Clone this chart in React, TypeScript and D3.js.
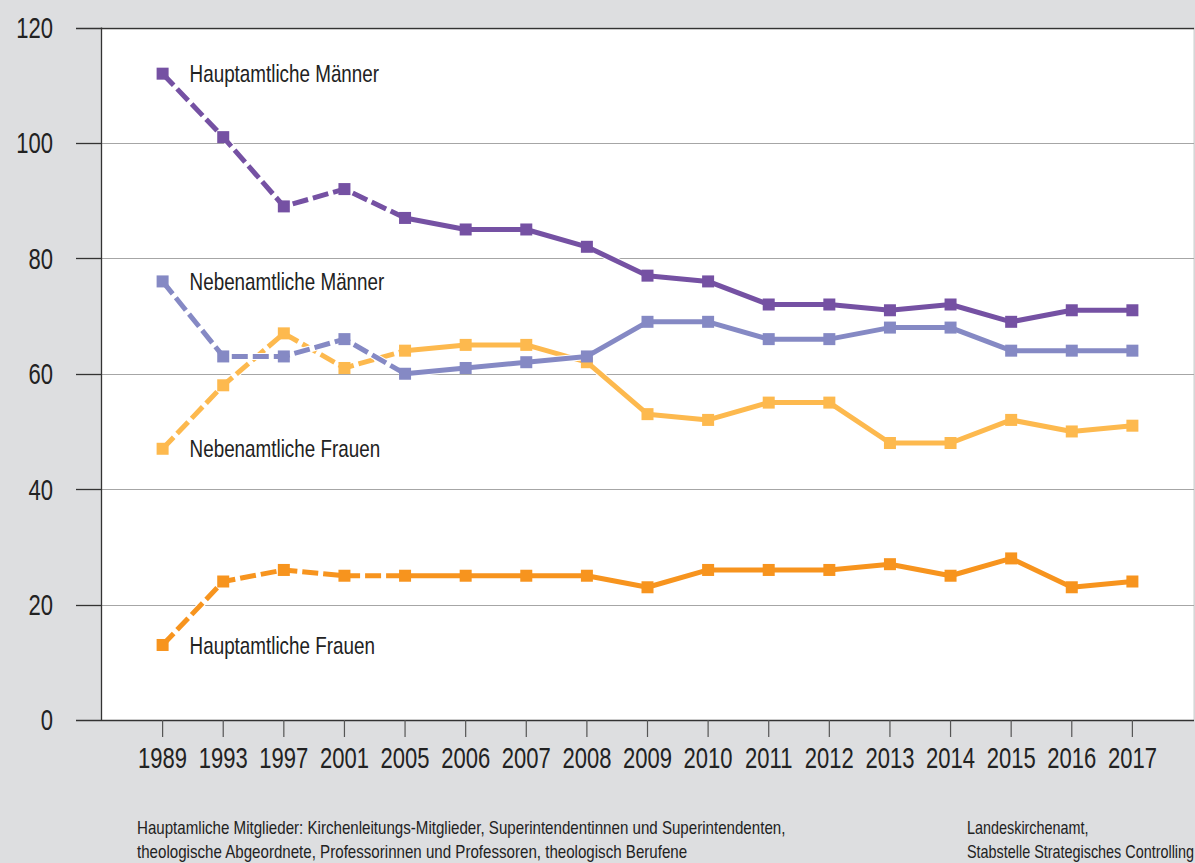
import React, { useEffect, useRef } from 'react';
import * as d3 from 'd3';

const years = ['1989', '1993', '1997', '2001', '2005', '2006', '2007', '2008', '2009', '2010', '2011', '2012', '2013', '2014', '2015', '2016', '2017'];
const hauptMaenner = [112, 101, 89, 92, 87, 85, 85, 82, 77, 76, 72, 72, 71, 72, 69, 71, 71];
const nebenMaenner = [76, 63, 63, 66, 60, 61, 62, 63, 69, 69, 66, 66, 68, 68, 64, 64, 64];
const nebenFrauen = [47, 58, 67, 61, 64, 65, 65, 62, 53, 52, 55, 55, 48, 48, 52, 50, 51];
const hauptFrauen = [13, 24, 26, 25, 25, 25, 25, 25, 23, 26, 26, 26, 27, 25, 28, 23, 24];
const yTicks = [0, 20, 40, 60, 80, 100, 120];
// index of last year drawn dashed (2005)
const dashedUntil = 4;

const series = [
  { name: 'Hauptamtliche Frauen', values: hauptFrauen, color: '#f7941e' },
  { name: 'Nebenamtliche Frauen', values: nebenFrauen, color: '#fdb94e' },
  { name: 'Nebenamtliche Männer', values: nebenMaenner, color: '#8589c4' },
  { name: 'Hauptamtliche Männer', values: hauptMaenner, color: '#7551a3' },
];

const footLeft = [
  'Hauptamliche Mitglieder:  Kirchenleitungs-Mitglieder, Superintendentinnen und Superintendenten,',
  'theologische Abgeordnete, Professorinnen und Professoren, theologisch Berufene',
];
const footRight = ['Landeskirchenamt,', 'Stabstelle Strategisches Controlling'];

const W = 1195;
const H = 863;
const FONT = '"Liberation Sans", Arial, sans-serif';

// the original uses a condensed face; squeeze a regular one horizontally
const at = (x: number, y: number, sq = 0.76) => `translate(${x},${y}) scale(${sq},1)`;

export default function App() {
  const ref = useRef<SVGSVGElement>(null);

  useEffect(() => {
    const svg = d3.select(ref.current);
    svg.selectAll('*').remove();

    const left = 101;
    const right = 1194;
    const top = 27.5;
    const bottom = 720;

    const x = d3.scalePoint<string>().domain(years).range([102, 1193]).padding(1);
    const y = d3.scaleLinear().domain([0, 120]).range([bottom, top]);

    svg.append('rect').attr('width', W).attr('height', H).attr('fill', '#dddee0');
    svg.append('rect')
      .attr('x', left).attr('y', top)
      .attr('width', right - left).attr('height', bottom - top)
      .attr('fill', '#ffffff');
    svg.append('line')
      .attr('x1', right).attr('x2', right).attr('y1', top).attr('y2', bottom)
      .attr('stroke', '#cfcfcf');

    // gridlines
    svg.append('g')
      .selectAll('line')
      .data(yTicks.filter((d) => d > 0 && d < 120))
      .join('line')
      .attr('x1', left).attr('x2', right)
      .attr('y1', (d) => Math.round(y(d)) + 0.5).attr('y2', (d) => Math.round(y(d)) + 0.5)
      .attr('stroke', '#a6a6a6');

    // y axis ticks + labels
    const yAxis = svg.append('g');
    yAxis.selectAll('line')
      .data(yTicks)
      .join('line')
      .attr('x1', 76).attr('x2', (d) => (d === 0 || d === 120 ? right : left))
      .attr('y1', (d) => Math.round(y(d)) + 0.5).attr('y2', (d) => Math.round(y(d)) + 0.5)
      .attr('stroke', '#333')
      .attr('stroke-width', 1.3);
    yAxis.selectAll('text')
      .data(yTicks)
      .join('text')
      .attr('transform', (d) => at(53, y(d)))
      .attr('dy', '0.36em')
      .attr('text-anchor', 'end')
      .attr('font-family', FONT)
      .attr('font-size', 29)
      .attr('fill', '#222')
      .text((d) => d);
    svg.append('line')
      .attr('x1', left + 0.5).attr('x2', left + 0.5).attr('y1', top).attr('y2', bottom)
      .attr('stroke', '#333').attr('stroke-width', 1.3);

    // x axis
    const xAxis = svg.append('g');
    xAxis.selectAll('line')
      .data(years)
      .join('line')
      .attr('x1', (d) => x(d)!).attr('x2', (d) => x(d)!)
      .attr('y1', bottom).attr('y2', bottom + 17)
      .attr('stroke', '#555')
      .attr('stroke-width', 1.2);
    xAxis.selectAll('text')
      .data(years)
      .join('text')
      .attr('transform', (d) => at(x(d)!, 768))
      .attr('text-anchor', 'middle')
      .attr('font-family', FONT)
      .attr('font-size', 29)
      .attr('fill', '#222')
      .text((d) => d);

    const line = d3.line<number>()
      .x((d, i) => x(years[i])!)
      .y((d) => y(d));
    const part = d3.line<number | null>()
      .defined((d) => d !== null)
      .x((d, i) => x(years[i])!)
      .y((d) => y(d as number));

    for (const s of series) {
      const g = svg.append('g');
      const dashedPts = s.values.map((v, i) => (i <= dashedUntil ? v : null));
      const solidPts = s.values.map((v, i) => (i >= dashedUntil ? v : null));

      // white casing so crossing lines stay readable
      g.append('path')
        .attr('d', line(s.values))
        .attr('fill', 'none')
        .attr('stroke', '#fff')
        .attr('stroke-width', 7)
        .attr('stroke-linejoin', 'round');
      g.append('path')
        .attr('d', part(dashedPts))
        .attr('fill', 'none')
        .attr('stroke', s.color)
        .attr('stroke-width', 5)
        .attr('stroke-dasharray', '16 5');
      g.append('path')
        .attr('d', part(solidPts))
        .attr('fill', 'none')
        .attr('stroke', s.color)
        .attr('stroke-width', 5)
        .attr('stroke-linejoin', 'round');
      g.selectAll('rect')
        .data(s.values)
        .join('rect')
        .attr('x', (d, i) => x(years[i])! - 6)
        .attr('y', (d) => y(d) - 6)
        .attr('width', 12)
        .attr('height', 12)
        .attr('fill', s.color);
      g.append('text')
        .attr('transform', at(x(years[0])! + 27, y(s.values[0]), 0.785))
        .attr('dy', '0.36em')
        .attr('font-family', FONT)
        .attr('font-size', 24)
        .attr('fill', '#222')
        .text(s.name);
    }

    // footnotes
    const foot = svg.append('g')
      .attr('font-family', FONT)
      .attr('font-size', 18)
      .attr('fill', '#222');
    foot.selectAll('text.l')
      .data(footLeft)
      .join('text')
      .attr('class', 'l')
      .attr('transform', (d, i) => at(137, 834 + i * 24, 0.84))
      .text((d) => d);
    foot.selectAll('text.r')
      .data(footRight)
      .join('text')
      .attr('class', 'r')
      .attr('transform', (d, i) => at(967, 834 + i * 24, 0.8))
      .text((d) => d);
  }, []);

  return (
    <svg
      ref={ref}
      width={W}
      height={H}
      style={{ position: 'absolute', left: 0, top: 0, display: 'block' }}
    />
  );
}
